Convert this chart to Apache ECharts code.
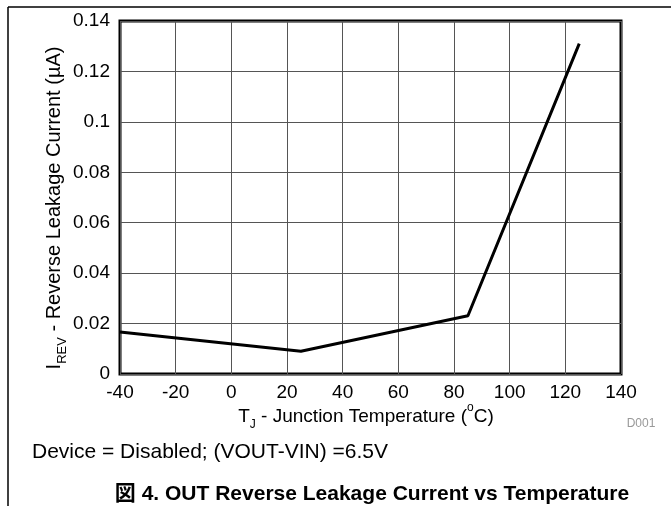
<!DOCTYPE html>
<html>
<head>
<meta charset="utf-8">
<script src="https://cdn.jsdelivr.net/npm/echarts@6/dist/echarts.min.js"></script>
<style>
  html, body { margin: 0; padding: 0; background: #fff; }
  #main { width: 671px; height: 506px; }
</style>
</head>
<body>
<div id="main"></div>
<script>
// junction temperature (C) and reverse leakage current (uA)
var temps = [-40, 25, 85, 125];
var leakage = [0.0167, 0.009, 0.0231, 0.131];
var yTicks = [0, 0.02, 0.04, 0.06, 0.08, 0.1, 0.12, 0.14];
var xTicks = [-40, -20, 0, 20, 40, 60, 80, 100, 120, 140];

var font = 'Liberation Sans, Arial, sans-serif';
var chart = echarts.init(document.getElementById('main'));

var option = {
    animation: false,
    grid: {
        left: 120,
        right: 50,
        top: 21,
        bottom: 132,
        show: true,
        borderColor: '#000',
        borderWidth: 3
    },
    xAxis: {
        type: 'value',
        min: xTicks[0],
        max: xTicks[xTicks.length - 1],
        interval: 20,
        axisLine: { show: false },
        axisTick: { show: false },
        axisLabel: { color: '#000', fontFamily: font, fontSize: 19, margin: 9 },
        splitLine: { lineStyle: { color: '#555', width: 1 } }
    },
    yAxis: {
        type: 'value',
        min: yTicks[0],
        max: yTicks[yTicks.length - 1],
        interval: 0.02,
        axisLine: { show: false },
        axisTick: { show: false },
        axisLabel: { color: '#000', fontFamily: font, fontSize: 19, margin: 10 },
        splitLine: { lineStyle: { color: '#555', width: 1 } }
    },
    series: [{
        type: 'line',
        data: temps.map(function (t, i) { return [t, leakage[i]]; }),
        symbol: 'none',
        lineStyle: { color: '#000', width: 3 }
    }],
    graphic: [
        // frame lines of the figure
        { type: 'line', shape: { x1: 8, y1: 7, x2: 671, y2: 7 }, style: { stroke: '#000', lineWidth: 1.5 } },
        { type: 'line', shape: { x1: 8, y1: 7, x2: 8, y2: 506 }, style: { stroke: '#000', lineWidth: 1.5 } },
        {
            type: 'text', x: 52, y: 208, rotation: Math.PI / 2,
            style: {
                text: '{n|I}{s|REV}{n| - Reverse Leakage Current (µA)}',
                align: 'center', verticalAlign: 'middle',
                rich: {
                    n: { fontFamily: font, fontSize: 20, fill: '#000', lineHeight: 24, verticalAlign: 'bottom' },
                    s: { fontFamily: font, fontSize: 13, fill: '#000', lineHeight: 24, verticalAlign: 'bottom', padding: [0, 0, -5, 0] }
                }
            }
        },
        {
            type: 'text', x: 366, y: 415,
            style: {
                text: '{n|T}{s|J}{n| - Junction Temperature (}{p|o}{n|C)}',
                align: 'center', verticalAlign: 'middle',
                rich: {
                    n: { fontFamily: font, fontSize: 19, fill: '#000', lineHeight: 22, verticalAlign: 'bottom' },
                    s: { fontFamily: font, fontSize: 12, fill: '#000', lineHeight: 22, verticalAlign: 'bottom', padding: [0, 0, -5, 0] },
                    p: { fontFamily: font, fontSize: 12, fill: '#000', lineHeight: 22, verticalAlign: 'top', padding: [-2, 0, 0, 0] }
                }
            }
        },
        {
            type: 'text', x: 641, y: 424,
            style: { text: 'D001', fontFamily: font, fontSize: 12, fill: '#999', align: 'center', verticalAlign: 'middle' }
        },
        {
            type: 'text', x: 32, y: 452,
            style: { text: 'Device = Disabled; (VOUT-VIN) =6.5V', fontFamily: font, fontSize: 21, fill: '#000', align: 'left', verticalAlign: 'middle' }
        },
        {
            type: 'text', x: 372, y: 494,
            style: { text: '図 4. OUT Reverse Leakage Current vs Temperature', fontFamily: 'Liberation Sans, Noto Sans CJK JP, sans-serif', fontWeight: 'bold', fontSize: 21, fill: '#000', align: 'center', verticalAlign: 'middle' }
        }
    ]
};

chart.setOption(option);
</script>
</body>
</html>
